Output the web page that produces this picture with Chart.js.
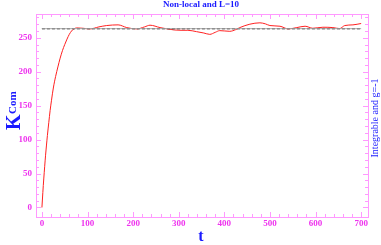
<!DOCTYPE html>
<html>
<head>
<meta charset="utf-8">
<script src="https://cdn.jsdelivr.net/npm/chart.js@4.4.0/dist/chart.umd.min.js"></script>
<style>
html,body{margin:0;padding:0;background:#fff;}
#wrap{width:381px;height:245px;position:relative;}
</style>
</head>
<body>
<div id="wrap"><canvas id="c" width="381" height="245"></canvas></div>
<script>
const titleText = "Non-local and L=10";
const rightText = "Integrable and g=-1";
const xTitle = "t";
const yTitleMain = "K";
const yTitleSub = "Com";

const tValues = [0,1,2,4,6,8,10,12,15,18,21,25,30,35,40,45,50,55,60,65,70,76,90,105,125,142,167,186,208,225,237,259,275,290,305,320,339,355,368,380,390,412,425,434,456,478,490,500,522,540,559,577,594,616,638,653,664,682,700];
const kValues = [0,11,22,42,60,77,92,106,125,143,158,176,193,207,220,231,240,248,255,260,263,264.5,264,263,266,268,269,265,263,266,268.5,265,263,261.5,261,261,259,257,255,258,260.5,259.5,262,265,270,272,270.5,268,267,263,265,267,264,265.5,265,263.5,268,269,271];
const refT = [0,700];
const refK = [263.4,263.4];

const xTicks = [0,100,200,300,400,500,600,700];
const yTicks = [0,50,100,150,200,250];

const frameColor = '#ff99ff';
const labelColor = '#ee33ee';
const textBlue = '#1a1aff';

const framePlugin = {
  id: 'frame',
  afterDraw(chart){
    const {ctx, chartArea:a, scales:{x,y}} = chart;
    ctx.save();
    ctx.strokeStyle = frameColor;
    ctx.lineWidth = 1;
    ctx.strokeRect(Math.round(a.left)+0.5, Math.round(a.top)+0.5, Math.round(a.right-a.left), Math.round(a.bottom-a.top));
    ctx.beginPath();
    for(let v=0; v<=700; v+=20){
      const px = Math.round(x.getPixelForValue(v))+0.5;
      const len = (v%100===0)?5:3;
      ctx.moveTo(px,a.bottom); ctx.lineTo(px,a.bottom-len);
      ctx.moveTo(px,a.top); ctx.lineTo(px,a.top+len);
    }
    for(let v=0; v<=280; v+=10){
      const py = Math.round(y.getPixelForValue(v))+0.5;
      const len = (v%50===0)?5:3;
      ctx.moveTo(a.left,py); ctx.lineTo(a.left+len,py);
      ctx.moveTo(a.right,py); ctx.lineTo(a.right-len,py);
    }
    ctx.stroke();
    // title
    ctx.fillStyle = textBlue;
    ctx.font = 'bold 9px "Liberation Serif", serif';
    ctx.textAlign = 'center';
    ctx.textBaseline = 'middle';
    ctx.fillText(titleText, 201, 5);
    // x title
    ctx.font = 'bold 16px "Liberation Serif", serif';
    ctx.fillText(xTitle, 201, 237);
    // y title rotated
    ctx.save();
    ctx.translate(13, 111);
    ctx.rotate(-Math.PI/2);
    ctx.font = 'bold 20px "Liberation Serif", serif';
    ctx.textAlign = 'left';
    ctx.textBaseline = 'alphabetic';
    const wK = ctx.measureText(yTitleMain).width;
    ctx.font = 'bold 11px "Liberation Serif", serif';
    const wS = ctx.measureText(yTitleSub).width;
    const start = -(wK + wS)/2;
    ctx.font = 'bold 20px "Liberation Serif", serif';
    ctx.fillText(yTitleMain, start, 7);
    ctx.font = 'bold 11px "Liberation Serif", serif';
    ctx.fillText(yTitleSub, start + wK + 0.5, 3);
    ctx.restore();
    // right text
    ctx.save();
    ctx.translate(375, 118);
    ctx.rotate(-Math.PI/2);
    ctx.font = '10px "Liberation Serif", serif';
    ctx.textAlign = 'center';
    ctx.textBaseline = 'middle';
    ctx.fillText(rightText, 0, 0);
    ctx.restore();
    ctx.restore();
  }
};

new Chart(document.getElementById('c'), {
  type: 'line',
  data: {
    datasets: [
      {
        data: refT.map((t,i)=>({x:t,y:refK[i]})),
        borderColor: '#aaaaaa', borderWidth: 1, pointRadius: 0, tension: 0
      },
      {
        data: refT.map((t,i)=>({x:t,y:refK[i]})),
        borderColor: '#000000', borderWidth: 1.4, borderDash: [3,2], pointRadius: 0, tension: 0
      },
      {
        data: tValues.map((t,i)=>({x:t,y:kValues[i]})),
        borderColor: '#ff2020', borderWidth: 1, pointRadius: 0,
        cubicInterpolationMode: 'monotone'
      }
    ]
  },
  options: {
    responsive: false,
    animation: false,
    devicePixelRatio: 1,
    layout: { padding: { left: 0, right: 13, top: 14, bottom: 0 } },
    plugins: { legend: { display: false }, tooltip: { enabled: false } },
    scales: {
      x: {
        type: 'linear', min: -13, max: 715,
        afterFit(s){ s.height = 28; },
        afterBuildTicks(s){ s.ticks = xTicks.map(v=>({value:v})); },
        grid: { display: false, drawTicks: false },
        border: { display: false },
        ticks: { color: labelColor, font: { family: '"Liberation Serif", serif', size: 9, weight: 'bold' }, padding: 1, maxRotation: 0, autoSkip: false }
      },
      y: {
        type: 'linear', min: -14, max: 285,
        afterFit(s){ s.width = 36; },
        afterBuildTicks(s){ s.ticks = yTicks.map(v=>({value:v})); },
        grid: { display: false, drawTicks: false },
        border: { display: false },
        ticks: { color: labelColor, font: { family: '"Liberation Serif", serif', size: 9, weight: 'bold' }, padding: 4, autoSkip: false }
      }
    }
  },
  plugins: [framePlugin]
});
</script>
</body>
</html>
